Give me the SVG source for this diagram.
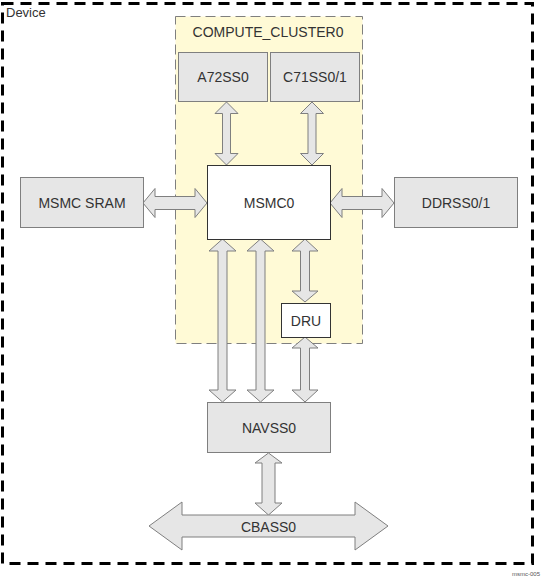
<svg xmlns="http://www.w3.org/2000/svg" width="541" height="576" viewBox="0 0 541 576">
<style>
text{font-family:"Liberation Sans",Arial,sans-serif;fill:#333;font-size:14px;text-anchor:middle;dominant-baseline:central}
.node{fill:#e6e6e6;stroke:#7f7f7f;stroke-width:1}
.wnode{fill:#fff;stroke:#333;stroke-width:1}
.arr{fill:#e6e6e6;stroke:#7f7f7f;stroke-width:1;stroke-linejoin:miter}
</style>
<rect width="541" height="576" fill="#fff"/>
<g id="device">
<rect x="2.5" y="3.5" width="530" height="560" fill="none" stroke="#000" stroke-width="3" stroke-dasharray="11 7"/>
<text x="6" y="12" style="text-anchor:start;font-size:13px">Device</text>
</g>
<g id="compute_cluster0">
<rect x="175.5" y="16.5" width="187" height="327" fill="#fffad6" stroke="#7f7f7f" stroke-width="1" stroke-dasharray="10 5"/>
<text x="268" y="32">COMPUTE_CLUSTER0</text>
</g>
<g id="connectors">
<polygon class="arr" points="226.5,102 238,113.5 230.5,113.5 230.5,153.5 238,153.5 226.5,165 215,153.5 222.5,153.5 222.5,113.5 215,113.5"/>
<polygon class="arr" points="312,102 323.5,113.5 316,113.5 316,153.5 323.5,153.5 312,165 300.5,153.5 308,153.5 308,113.5 300.5,113.5"/>
<polygon class="arr" points="222.5,239 236,251 227,251 227,390 236,390 222.5,402 209,390 218,390 218,251 209,251"/>
<polygon class="arr" points="260.5,239 274,251 265,251 265,390 274,390 260.5,402 247,390 256,390 256,251 247,251"/>
<polygon class="arr" points="305,239 318,251 309.5,251 309.5,291 318,291 305,302 292,291 300.5,291 300.5,251 292,251"/>
<polygon class="arr" points="305,337 318,348 309.5,348 309.5,390 318,390 305,402 292,390 300.5,390 300.5,348 292,348"/>
<polygon class="arr" points="268.5,453 282,463 275,463 275,503 282,503 268.5,515 255,503 262,503 262,463 255,463"/>
<polygon class="arr" points="143,203 155,188.5 155,196.5 195,196.5 195,188.5 207,203 195,217.5 195,209.5 155,209.5 155,217.5"/>
<polygon class="arr" points="330,203 342,188.5 342,196.5 382,196.5 382,188.5 394,203 382,217.5 382,209.5 342,209.5 342,217.5"/>
</g>
<g id="cbass0">
<polygon class="arr" points="149,526 182,502 182,515 355,515 355,502 388,526 355,550 355,537 182,537 182,550"/>
<text x="268.5" y="527">CBASS0</text>
</g>
<g id="a72ss0"><rect class="node" x="178.5" y="52.5" width="89" height="49"/><text x="223" y="77">A72SS0</text></g>
<g id="c71ss0_1"><rect class="node" x="270.5" y="52.5" width="89" height="49"/><text x="315" y="77">C71SS0/1</text></g>
<g id="msmc0"><rect class="wnode" x="207.5" y="165.5" width="123" height="74"/><text x="269" y="203">MSMC0</text></g>
<g id="msmc_sram"><rect class="node" x="20.5" y="177.5" width="123" height="50"/><text x="82" y="203">MSMC SRAM</text></g>
<g id="ddrss0_1"><rect class="node" x="394.5" y="177.5" width="123" height="50"/><text x="456" y="203">DDRSS0/1</text></g>
<g id="dru"><rect class="wnode" x="281.5" y="303.5" width="49" height="34"/><text x="306" y="321">DRU</text></g>
<g id="navss0"><rect class="node" x="207.5" y="402.5" width="123" height="50"/><text x="269" y="428">NAVSS0</text></g>
<text x="540" y="574" style="text-anchor:end;font-size:6px;fill:#555">msmc-005</text>
</svg>
